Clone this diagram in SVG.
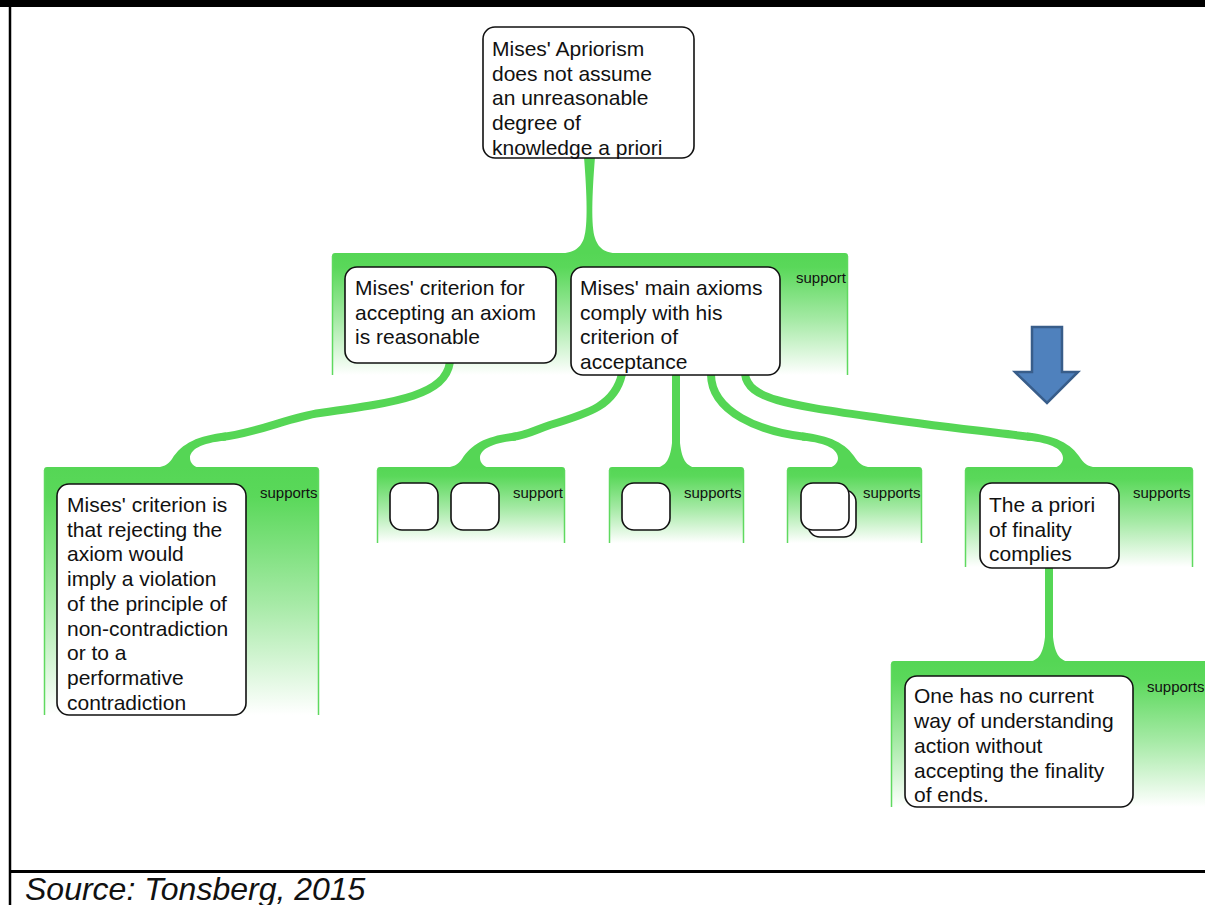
<svg xmlns="http://www.w3.org/2000/svg" xmlns:xlink="http://www.w3.org/1999/xlink" width="1205" height="905" viewBox="0 0 1205 905">
  <style>
    .node { fill: #ffffff; stroke: #111111; stroke-width: 1.6; }
    .txt { font-family: "Liberation Sans", Arial, sans-serif; font-size: 21px; fill: #111111; }
    .lbl { font-family: "Liberation Sans", Arial, sans-serif; font-size: 15px; fill: #111111; }
    .grp { fill: url(#grpFill); }
    .side { stroke: #5fd95f; stroke-width: 1.5; fill: none; }
    .link { fill: none; stroke: #55d655; stroke-width: 8; stroke-linecap: butt; }
    .flare { fill: #55d655; }
    .frame { stroke: #000000; fill: none; }
    .source { font-family: "Liberation Sans", Arial, sans-serif; font-size: 32px; font-style: italic; fill: #111111; }
  </style>
  <defs>
    <linearGradient id="grpFill" x1="0" y1="0" x2="0" y2="1">
      <stop offset="0" stop-color="#55d655"/>
      <stop offset="0.12" stop-color="#5ad85a"/>
      <stop offset="0.55" stop-color="#a6eaa6"/>
      <stop offset="1" stop-color="#ffffff"/>
    </linearGradient>
    <!-- bell-shaped widening where a straight connector meets a group -->
    <path id="flare" d="M -24,1 C -11,1 -6,-6 -4,-24 L 4,-24 C 6,-6 11,1 24,1 Z"/>
    <!-- end of a connector arriving from the upper right, origin at the group top -->
    <path id="joinR" d="M 50,-34.5 C 22,-31.5 6,-24 -4,-8 C -8,-2 -13,0 -22,1 L 24,1 C 18,0 14,-4 14,-9 C 14,-17 24,-24 50,-26.5 Z"/>
  </defs>

  <rect width="1205" height="905" fill="#ffffff"/>

  <!-- frame -->
  <g id="frame">
    <rect x="0" y="0" width="1205" height="7" fill="#000000"/>
    <line class="frame" x1="10" y1="0" x2="10" y2="905" stroke-width="2.5"/>
    <line class="frame" x1="10" y1="871.5" x2="1205" y2="871.5" stroke-width="3"/>
  </g>

  <!-- group backgrounds -->
  <g id="groups">
    <g id="grp-level1">
      <rect class="grp" x="332" y="253" width="516" height="122" rx="3"/>
      <path class="side" d="M332.5,256 V375 M847.5,256 V375"/>
      <text class="lbl" x="796" y="283">support</text>
    </g>
    <g id="grp-a">
      <rect class="grp" x="44" y="467" width="275" height="248" rx="3"/>
      <path class="side" d="M44.5,470 V715 M318.5,470 V715"/>
      <text class="lbl" x="260" y="498">supports</text>
    </g>
    <g id="grp-b">
      <rect class="grp" x="377" y="467" width="188" height="76" rx="3"/>
      <path class="side" d="M377.5,470 V543 M564.5,470 V543"/>
      <text class="lbl" x="513" y="498">support</text>
    </g>
    <g id="grp-c">
      <rect class="grp" x="609" y="467" width="135" height="76" rx="3"/>
      <path class="side" d="M609.5,470 V543 M743.5,470 V543"/>
      <text class="lbl" x="684" y="498">supports</text>
    </g>
    <g id="grp-d">
      <rect class="grp" x="787" y="467" width="135" height="76" rx="3"/>
      <path class="side" d="M787.5,470 V543 M921.5,470 V543"/>
      <text class="lbl" x="863" y="498">supports</text>
    </g>
    <g id="grp-e">
      <rect class="grp" x="965" y="467" width="228" height="100" rx="3"/>
      <path class="side" d="M965.5,470 V567 M1192.5,470 V567"/>
      <text class="lbl" x="1133" y="498">supports</text>
    </g>
    <g id="grp-f">
      <rect class="grp" x="891" y="661" width="320" height="146" rx="3"/>
      <path class="side" d="M891.5,664 V807"/>
      <text class="lbl" x="1147" y="692">supports</text>
    </g>
  </g>

  <!-- connectors -->
  <g id="connectors">
    <!-- root to first level -->
    <path class="flare" d="M584,157 L595,157 C592,195 591,226 595,238 C599,250 606,253 622,254 L556,254 C572,253 580,250 584,238 C588,226 587,195 584,157 Z"/>
    <!-- criterion to grp-a -->
    <path class="link" d="M450,362 C445,395 400,402 320,413 C290,417 256,433.5 222,437"/>
    <use class="flare" xlink:href="#joinR" transform="translate(176,467)"/>
    <!-- axioms to grp-b -->
    <path class="link" d="M622,374 C615,405 590,413 550,425 C535,430 528,435 512,437"/>
    <use class="flare" xlink:href="#joinR" transform="translate(466,467)"/>
    <!-- axioms to grp-c -->
    <path class="link" d="M676,374 L676,445"/>
    <use class="flare" xlink:href="#flare" x="676" y="467"/>
    <!-- axioms to grp-d -->
    <path class="link" d="M711,374 C711,412 760,432 806,437"/>
    <use class="flare" xlink:href="#joinR" transform="translate(852,467) scale(-1,1)"/>
    <!-- axioms to grp-e -->
    <path class="link" d="M745,374 C748,400 790,405 880,418 C950,428 1000,433 1031,437"/>
    <use class="flare" xlink:href="#joinR" transform="translate(1077,467) scale(-1,1)"/>
    <!-- finality to grp-f -->
    <path class="link" d="M1049,567 L1049,639"/>
    <use class="flare" xlink:href="#flare" x="1049" y="661"/>
  </g>

  <!-- nodes -->
  <g id="node-root">
    <rect class="node" x="483" y="27" width="211" height="131" rx="12"/>
    <text class="txt" x="492" y="56">Mises' Apriorism</text>
    <text class="txt" x="492" y="81">does not assume</text>
    <text class="txt" x="492" y="105">an unreasonable</text>
    <text class="txt" x="492" y="130">degree of</text>
    <text class="txt" x="492" y="155">knowledge a priori</text>
  </g>
  <g id="node-criterion">
    <rect class="node" x="345" y="267" width="211" height="96" rx="12"/>
    <text class="txt" x="355" y="295">Mises' criterion for</text>
    <text class="txt" x="355" y="320">accepting an axiom</text>
    <text class="txt" x="355" y="344">is reasonable</text>
  </g>
  <g id="node-axioms">
    <rect class="node" x="571" y="267" width="209" height="108" rx="12"/>
    <text class="txt" x="580" y="295">Mises' main axioms</text>
    <text class="txt" x="580" y="320">comply with his</text>
    <text class="txt" x="580" y="344">criterion of</text>
    <text class="txt" x="580" y="369">acceptance</text>
  </g>
  <g id="node-contradiction">
    <rect class="node" x="57" y="484" width="189" height="231" rx="12"/>
    <text class="txt" x="67" y="512">Mises' criterion is</text>
    <text class="txt" x="67" y="537">that rejecting the</text>
    <text class="txt" x="67" y="561">axiom would</text>
    <text class="txt" x="67" y="586">imply a violation</text>
    <text class="txt" x="67" y="611">of the principle of</text>
    <text class="txt" x="67" y="636">non-contradiction</text>
    <text class="txt" x="67" y="660">or to a</text>
    <text class="txt" x="67" y="685">performative</text>
    <text class="txt" x="67" y="710">contradiction</text>
  </g>
  <g id="node-b1">
    <rect class="node" x="390" y="483" width="48" height="47" rx="12"/>
  </g>
  <g id="node-b2">
    <rect class="node" x="451" y="483" width="48" height="47" rx="12"/>
  </g>
  <g id="node-c1">
    <rect class="node" x="622" y="483" width="48" height="47" rx="12"/>
  </g>
  <g id="node-d1">
    <rect class="node" x="808" y="490" width="48" height="47" rx="12"/>
    <rect class="node" x="801" y="483" width="48" height="47" rx="12"/>
  </g>
  <g id="node-finality">
    <rect class="node" x="980" y="483" width="139" height="85" rx="12"/>
    <text class="txt" x="989" y="512">The a priori</text>
    <text class="txt" x="989" y="537">of finality</text>
    <text class="txt" x="989" y="561">complies</text>
  </g>
  <g id="node-ends">
    <rect class="node" x="905" y="676" width="228" height="131" rx="12"/>
    <text class="txt" x="914" y="703">One has no current</text>
    <text class="txt" x="914" y="728">way of understanding</text>
    <text class="txt" x="914" y="753">action without</text>
    <text class="txt" x="914" y="778">accepting the finality</text>
    <text class="txt" x="914" y="802">of ends.</text>
  </g>

  <!-- marker arrow -->
  <g id="down-arrow">
    <path d="M1032,327 H1062 V372 H1078 L1047,403 L1015,372 H1032 Z" fill="#4f81bd" stroke="#385d8a" stroke-width="2.5" stroke-linejoin="miter"/>
  </g>

  <text class="source" x="25" y="900">Source: Tonsberg, 2015</text>
</svg>
